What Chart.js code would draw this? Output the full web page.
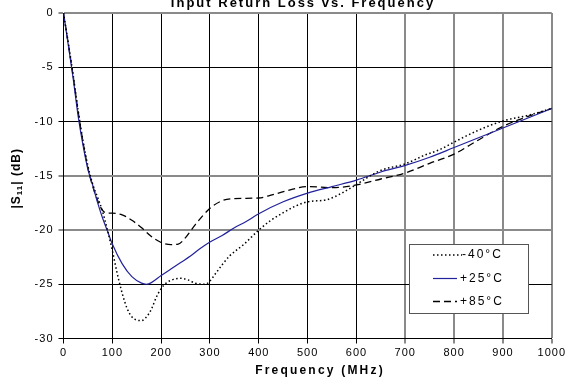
<!DOCTYPE html>
<html>
<head>
<meta charset="utf-8">
<script src="https://cdn.jsdelivr.net/npm/chart.js@4.4.1/dist/chart.umd.min.js"></script>
<style>
html, body { margin: 0; padding: 0; background: #fff; }
#wrap { width: 567px; height: 378px; }
</style>
</head>
<body>
<div id="wrap"><canvas id="chart" width="567" height="378"></canvas></div>
<script>
// labels
const chartTitle = 'Input Return Loss vs. Frequency';
const xTitle = 'Frequency (MHz)';
const yTitle = ['|S', '11', '| (dB)'];
const seriesNames = ['-40°C', '+25°C', '+85°C'];

// axis ticks
const xTicks = [0, 100, 200, 300, 400, 500, 600, 700, 800, 900, 1000];
const yTicks = [0, -5, -10, -15, -20, -25, -30];

// -40°C (dotted)
const coldFreq = [0, 10, 20, 30, 40, 50, 60, 70, 80, 90, 100, 110, 120, 130, 140, 150, 160, 170, 180, 190, 200,
  210, 225, 240, 255, 270, 290, 300, 310, 325, 340, 370, 400, 425, 450, 475, 500, 540, 570, 600, 625, 650,
  700, 740, 770, 800, 850, 900, 950, 1000];
const coldLoss = [0, -2.8, -5.8, -9.0, -11.8, -14.1, -15.8, -17.0, -18.3, -20.0, -21.9, -24.0, -25.8, -27.2, -28.0, -28.3, -28.35, -28.0, -27.3, -26.2, -25.4,
  -24.9, -24.55, -24.45, -24.6, -24.9, -25.0, -24.7, -24.1, -23.2, -22.4, -21.3, -20.0, -19.1, -18.4, -17.8, -17.4, -17.2, -16.6, -15.8, -15.1, -14.5,
  -13.9, -13.1, -12.6, -11.9, -10.8, -9.95, -9.45, -8.8];

// +25°C (solid blue)
const roomFreq = [0, 10, 20, 30, 40, 50, 60, 70, 80, 90, 100, 120, 140, 160, 170, 180, 200, 220, 240, 260, 280,
  300, 325, 350, 375, 400, 450, 500, 550, 600, 650, 700, 750, 800, 850, 900, 950, 1000];
const roomLoss = [0, -3.0, -6.1, -9.5, -12.2, -14.4, -15.9, -17.5, -18.9, -20.1, -21.3, -23.1, -24.3, -24.9, -25.0, -24.85, -24.2, -23.6, -23.0, -22.4, -21.7,
  -21.1, -20.5, -19.8, -19.2, -18.5, -17.4, -16.6, -16.0, -15.4, -14.65, -14.05, -13.3, -12.4, -11.5, -10.6, -9.7, -8.8];

// +85°C (dashed)
const hotFreq = [0, 10, 20, 30, 40, 50, 60, 70, 80, 90, 100, 120, 140, 160, 180, 200, 220, 235, 250, 270, 300,
  325, 350, 400, 420, 460, 500, 550, 600, 650, 700, 750, 800, 850, 900, 950, 1000];
const hotLoss = [0, -2.9, -5.9, -9.1, -11.9, -14.3, -16.0, -17.3, -18.2, -18.45, -18.45, -18.6, -19.1, -19.8, -20.6, -21.15, -21.35, -21.3, -20.7, -19.5, -18.0,
  -17.3, -17.1, -17.05, -16.85, -16.35, -16.0, -16.1, -15.85, -15.3, -14.75, -13.85, -13.0, -11.7, -10.45, -9.55, -8.8];

const FONT = '"Liberation Sans", Arial, sans-serif';
const grayX = [700, 800, 900, 1000];
const grayY = [0, -15, -20];

function toPoints(xs, ys) {
  return xs.map((x, i) => ({x: x, y: ys[i]}));
}

// grid colour for lines that look soft in the original
function gridColor(list) {
  return c => (c.tick && list.includes(c.tick.value)) ? '#8a8a8a' : '#000';
}
function gridWidth(list) {
  return c => (c.tick && list.includes(c.tick.value)) ? 2 : 1;
}

// titles and the boxed legend
const decorPlugin = {
  id: 'decor',
  beforeDraw(chart) {
    chart.ctx.letterSpacing = '1px';
  },
  afterDatasetsDraw(chart) {
    const ctx = chart.ctx;
    const sets = chart.data.datasets;
    ctx.save();
    ctx.fillStyle = '#fff';
    ctx.strokeStyle = '#555';
    ctx.lineWidth = 1;
    ctx.fillRect(409.5, 244.5, 119, 69);
    ctx.strokeRect(409.5, 244.5, 119, 69);
    const rows = [255, 278.5, 301.5];
    ctx.font = '12px ' + FONT;
    ctx.letterSpacing = '2px';
    ctx.textBaseline = 'middle';
    ctx.textAlign = 'left';
    sets.forEach((ds, i) => {
      ctx.beginPath();
      ctx.setLineDash(ds.borderDash || []);
      ctx.strokeStyle = ds.borderColor;
      ctx.lineWidth = ds.borderWidth;
      ctx.moveTo(433, rows[i]);
      ctx.lineTo(i === 0 ? 462 : 457, rows[i]);
      ctx.stroke();
      ctx.fillStyle = '#000';
      ctx.fillText(ds.label, i === 0 ? 462 : 460, rows[i]);
    });
    ctx.restore();
  },
  afterDraw(chart) {
    const ctx = chart.ctx;
    ctx.save();
    ctx.fillStyle = '#000';
    // main title, partly cut off at the top edge
    ctx.font = 'bold 13px ' + FONT;
    ctx.letterSpacing = '2px';
    ctx.textAlign = 'center';
    ctx.textBaseline = 'alphabetic';
    ctx.fillText(chartTitle, 303, 6.5);
    // x axis title
    ctx.font = 'bold 12px ' + FONT;
    ctx.letterSpacing = '2.2px';
    ctx.fillText(xTitle, 320, 373.5);
    // y axis title with subscript
    ctx.letterSpacing = '1px';
    ctx.textAlign = 'left';
    const big = 'bold 12px ' + FONT, small = 'bold 8px ' + FONT;
    ctx.font = big;
    const w1 = ctx.measureText(yTitle[0]).width;
    const w3 = ctx.measureText(yTitle[2]).width;
    ctx.font = small;
    const w2 = ctx.measureText(yTitle[1]).width;
    ctx.translate(15, 178.3);
    ctx.rotate(-Math.PI / 2);
    let u = -(w1 + w2 + w3) / 2;
    ctx.font = big;
    ctx.fillText(yTitle[0], u, 4.5);
    u += w1;
    ctx.font = small;
    ctx.fillText(yTitle[1], u, 7);
    u += w2;
    ctx.font = big;
    ctx.fillText(yTitle[2], u, 4.5);
    ctx.restore();
  }
};

new Chart(document.getElementById('chart'), {
  type: 'line',
  data: {
    datasets: [
      {label: seriesNames[0], data: toPoints(coldFreq, coldLoss), borderColor: '#000', borderWidth: 1.5, borderDash: [1.5, 2.5]},
      {label: seriesNames[1], data: toPoints(roomFreq, roomLoss), borderColor: '#22229a', borderWidth: 1.2},
      {label: seriesNames[2], data: toPoints(hotFreq, hotLoss), borderColor: '#000', borderWidth: 1.3, borderDash: [7, 4]}
    ]
  },
  options: {
    responsive: false,
    animation: false,
    devicePixelRatio: 1,
    layout: {padding: {top: 13, right: 14, left: 0, bottom: 0}},
    elements: {
      point: {radius: 0},
      line: {cubicInterpolationMode: 'monotone', fill: false}
    },
    plugins: {legend: {display: false}, tooltip: {enabled: false}, title: {display: false}},
    scales: {
      x: {
        type: 'linear',
        min: 0, max: 1000,
        afterBuildTicks: s => { s.ticks = xTicks.map(v => ({value: v})); },
        afterFit: s => { s.height = 39.5; },
        ticks: {color: '#000', font: {family: FONT, size: 11}, padding: 3, maxRotation: 0, autoSkip: false,
          callback: v => String(v)},
        grid: {color: gridColor(grayX), lineWidth: gridWidth(grayX), tickLength: 5},
        border: {color: '#000', width: 1}
      },
      y: {
        type: 'linear',
        min: -30, max: 0,
        afterBuildTicks: s => { s.ticks = yTicks.map(v => ({value: v})); },
        afterFit: s => { s.width = 63.5; },
        ticks: {color: '#000', font: {family: FONT, size: 11}, padding: 5, autoSkip: false,
          callback: v => String(v)},
        grid: {color: gridColor(grayY), lineWidth: gridWidth(grayY), tickLength: 5},
        border: {color: '#000', width: 1}
      }
    }
  },
  plugins: [decorPlugin]
});
</script>
</body>
</html>
